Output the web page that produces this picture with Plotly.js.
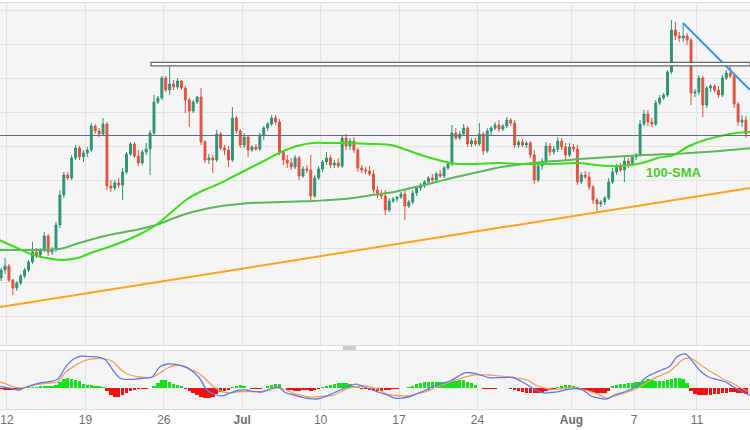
<!DOCTYPE html>
<html>
<head>
<meta charset="utf-8">
<script src="https://cdn.plot.ly/plotly-3.0.1.min.js"></script>
<style>html,body{margin:0;padding:0;background:#fff;}#chart{width:750px;height:430px;}</style>
</head>
<body>
<div id="chart"></div>
<script>
// ---- Price candles (4 per trading day, arbitrary price units) ----
const candleStart = -0.375;   // trading-day index of first candle
const candleStep = 0.25;      // 6-hour candles
const candleOpen = [122,130,134,120,112,117,124,130,138,148,145,150,164,148,151,175,205,225,222,242,252,243,247,250,274,269,266,276,214,212,217,215,228,246,256,244,237,248,251,267,298,302,322,310,316,313,319,312,300,289,298,303,258,240,242,240,266,252,250,240,282,269,255,263,250,253,251,265,272,276,282,278,248,240,237,233,242,224,231,230,204,222,231,238,242,235,237,234,262,254,259,250,232,230,229,226,210,205,204,190,199,201,203,206,194,198,207,212,215,218,222,220,226,224,232,236,267,262,266,272,256,259,256,266,249,269,272,275,271,274,280,277,255,258,255,257,245,220,234,239,254,248,251,259,253,245,253,251,218,225,223,213,200,196,198,202,218,228,233,230,239,236,243,245,276,286,278,276,297,302,305,328,370,364,362,364,360,307,308,322,295,312,314,310,305,322,327,324,296,278,280];
const candleHigh = [132,142,136,121,119,126,132,140,158,152,152,168,166,153,178,210,228,228,245,255,254,250,253,277,276,272,282,278,220,220,222,232,248,258,258,250,250,257,270,305,304,324,324,334,320,322,320,314,302,300,304,312,260,246,245,270,268,255,254,293,284,271,267,265,255,256,267,274,278,285,285,281,250,245,242,245,244,234,235,245,225,234,240,248,245,240,242,265,266,262,263,252,235,233,234,230,214,210,210,202,203,204,208,211,200,210,214,217,220,224,226,228,230,234,238,275,272,269,276,274,262,262,277,268,272,274,278,280,276,283,282,280,260,261,259,259,250,237,242,258,257,254,263,262,257,257,256,255,228,229,228,215,202,200,204,222,232,236,237,243,242,245,247,280,290,290,282,300,305,307,330,380,378,368,377,367,362,311,325,324,314,316,316,314,325,330,336,326,298,285,284];
const candleLow = [119,126,118,105,109,115,122,128,136,142,142,148,144,145,148,172,202,220,220,240,240,238,243,248,266,263,264,210,208,210,212,200,226,244,242,234,235,245,225,265,296,300,308,305,310,311,310,287,273,287,296,255,237,236,227,238,250,245,233,238,266,252,252,243,248,249,249,260,269,274,275,245,235,232,230,231,220,222,227,200,202,220,228,235,232,232,232,232,250,250,247,228,227,226,224,207,202,201,185,188,197,198,201,180,192,196,204,209,212,215,218,218,222,222,230,234,260,260,264,253,253,254,254,245,247,265,270,268,269,272,274,252,252,253,252,242,216,218,230,236,244,245,248,250,240,243,248,215,216,221,210,196,188,193,195,200,216,225,228,218,232,234,240,243,274,274,273,274,295,300,303,326,360,358,358,355,295,303,305,283,292,308,308,302,303,320,322,292,274,273,262];
const candleClose = [130,134,120,112,117,124,130,138,148,145,150,164,148,151,175,205,225,222,242,252,243,247,250,274,269,266,276,214,212,217,215,228,246,256,244,237,248,251,267,298,302,322,310,316,313,319,312,300,289,298,303,258,240,242,240,266,252,250,240,282,269,255,263,250,253,251,265,272,276,282,278,248,240,237,233,242,224,231,230,204,222,231,238,242,235,237,234,262,254,259,250,232,230,229,226,210,205,204,190,199,201,203,206,194,198,207,212,215,218,222,220,226,224,232,236,267,262,266,272,256,259,256,266,249,269,272,275,271,274,280,277,255,258,255,257,245,220,234,239,254,248,251,259,253,245,253,251,218,225,223,213,200,196,198,202,218,228,233,230,239,236,243,245,276,286,278,276,297,302,305,328,370,364,362,364,360,307,308,322,295,312,314,310,305,322,327,324,296,278,280,266];

// ---- Moving averages (one value per trading day, mid-day) ----
const smaStart = -0.5;
const smaStep = 1;
const sma100 = [160,153,146,142,140,142,148,153,159,166,175,188,201,209.5,216,224,232,240,248,254,257,257,257,256.5,256,255,250,244.5,240,236.5,236,236.5,237,236,236,236,236.5,237,235,234,234.5,237,242,245,254,260,264,267,268];
const sma200 = [150,150,150,150,151.5,156.5,161,165,168,171,175,181,186.5,190.5,193.5,195.5,197,197.5,198,198.5,199,200,201,203,205.5,207.5,211,214.5,218.5,222.5,226,229.5,233,235,237,238.5,239.5,241,242,243,244,245,245.5,246,247,248,249,250.5,252];

// ---- Trend lines and levels ----
const supportX = [-0.446, 47.385];
const supportY = [93, 212];
const resistX = [43.11, 47.385];
const resistY = [377, 310];
const zoneLow = 334.2, zoneHigh = 337.6, zoneStart = 9.18;
const midLevel = 264.5;

// ---- MACD (two values per trading day) ----
const macdStart = -0.75;
const macdStep = 0.5;
const macdLine = [2,1,-0.3,-2,1,3.5,5.5,6.5,9,21.3,29,31.8,31.3,31,28.5,18,9.5,8.7,9,9.8,11,21.3,24,23.5,21.5,17.5,10.5,-2,-6.5,-7.8,-5,-2.5,-2,-3.5,-4,-1.5,1.2,-4.5,-7,-9,-10.5,-11,-9,-5.5,-2,1.5,3.8,1.2,-1.5,-4.5,-7,-10.2,-10,-8.5,-5,-2,2,4.5,7,11.3,15.3,14.8,12.8,10.3,10.3,10.4,10.5,7,2.5,-2.2,-5,-4.5,-3.3,-1.5,-0.5,-2.3,-8,-10.2,-11,-7,-4.5,-1.7,3,10.5,14.5,18,21.5,31.5,34,26,16.5,11,8.5,6.5,2,-2.5,-6.5,-9];
const signalLine = [7,5,2,0.2,1,3,4.2,5,6.5,16,21.5,26,28.5,29.5,29.2,26.5,18.5,13.5,11.5,10.7,10.7,15,20,22.5,22,18.5,14.5,7.5,0.5,-4,-4.8,-3.8,-3.7,-3.7,-3.4,-1.5,0,-1.5,-5.3,-7.2,-9,-9,-8,-7.3,-4,-0.3,1,2.2,0.5,-2,-6.2,-7.5,-8,-7.5,-5.5,-3.5,-0.2,3,6,8.7,11,13,13,13,12.2,11.5,10.7,9.5,7.5,2.5,0,-1.3,-1,0,0,-1.8,-3.8,-6.8,-10,-8,-6,-3,0,5,9.5,13,16.5,23.5,29.7,28.5,23,17.5,13,8.5,5,0.5,-3.5,-6];
// histogram, one bar per candle
const macdHist = [-1.5,-2,-2.2,-2,-1.5,-0.8,-0.3,0.5,1,1.3,1.5,1.7,1.5,1.7,2.5,6,9,9.5,8.5,7.5,6.5,4,3,2.5,2,1.5,0.8,-3,-7,-9,-9,-7.5,-5,-3.5,-2.5,-1.5,-1,-0.8,0.3,2,5,7.5,7.5,6,4,3,1.5,-1,-3,-5,-7.5,-9.5,-10.5,-10.5,-9,-6.5,-4,-3,-2,0.5,2,2.5,2,-0.5,-1,-1,-0.8,0.3,1.5,2.5,3.5,3.5,-0.5,-2,-2.5,-3,-3,-2.5,-2.5,-3,-2,-1,0.5,1.5,2.5,3.5,4.5,5,4.5,3.5,2,0.5,-1,-1.5,-2.5,-3,-3,-3,-2.5,-2,-1.5,-1,-0.5,-0.2,1,2,3.5,4.5,5.5,6,6,5.5,6,6,6,6.5,7,7.5,7.5,6,4.5,2.5,-0.5,-1,-1.5,-1.5,-1,-0.5,-0.5,-0.5,-1,-2,-3,-4,-5,-5.5,-5.5,-5.5,-5,-3.5,-2,-1,1,2,2.5,2.5,2,1,-1,-2.5,-3.5,-4.5,-5,-5.5,-5.5,-3,2,3,3.5,4,4.5,5,5.5,6,7,8.5,7.5,6.5,6.5,7,7.5,8.5,9.5,9.5,8.5,5,-3,-6,-7,-7.5,-7.5,-7,-6.5,-6,-5.5,-5,-4.5,-4.5,-5,-5.5,-6.5];

// ---- Axis ticks (trading-day index) ----
const tickDays = [0,5,10,15,20,25,30,36,40,44];
const tickLabels = ['12','19','26','<b>Jul</b>','10','17','24','<b>Aug</b>','7','11'];

// time positions
const candleX = candleClose.map((_, i) => candleStart + i * candleStep);
const smaX = sma100.map((_, i) => smaStart + i * smaStep);
const macdX = macdLine.map((_, i) => macdStart + i * macdStep);

const xRange = [-0.446, 47.385];
const UP = '#2f9477', DOWN = '#e2543f';

const traces = [
  {type:'scatter', mode:'lines', x:smaX, y:sma200, line:{color:'#5cb85c', width:2, shape:'spline'}, hoverinfo:'skip', xaxis:'x', yaxis:'y'},
  {type:'scatter', mode:'lines', x:smaX, y:sma100, line:{color:'#3ddc1e', width:2, shape:'spline'}, hoverinfo:'skip', xaxis:'x', yaxis:'y'},
  {type:'candlestick', x:candleX, open:candleOpen, high:candleHigh, low:candleLow, close:candleClose,
   increasing:{line:{color:UP, width:1}, fillcolor:UP},
   decreasing:{line:{color:DOWN, width:1}, fillcolor:DOWN},
   whiskerwidth:0, hoverinfo:'skip', xaxis:'x', yaxis:'y'},
  {type:'scatter', mode:'lines', x:supportX, y:supportY, line:{color:'#ffa220', width:2}, hoverinfo:'skip', xaxis:'x', yaxis:'y'},
  {type:'scatter', mode:'lines', x:resistX, y:resistY, line:{color:'#3a98e8', width:2}, hoverinfo:'skip', xaxis:'x', yaxis:'y'},
  {type:'bar', x:candleX, y:macdHist, width:0.22,
   marker:{color:macdHist.map(v => v >= 0 ? '#18e018' : '#f51010'), line:{width:0}},
   hoverinfo:'skip', xaxis:'x2', yaxis:'y2'},
  {type:'scatter', mode:'lines', x:macdX, y:signalLine, line:{color:'#f5a060', width:1.3, shape:'spline'}, hoverinfo:'skip', xaxis:'x2', yaxis:'y2'},
  {type:'scatter', mode:'lines', x:macdX, y:macdLine, line:{color:'#5b7cf4', width:1.3, shape:'spline'}, hoverinfo:'skip', xaxis:'x2', yaxis:'y2'}
];

const gridC = '#e3e3e3', borderC = '#d4dce6';
const layout = {
  width:750, height:430,
  margin:{l:0, r:0, t:3, b:21, pad:0},
  paper_bgcolor:'#ffffff', plot_bgcolor:'#f5f5f5',
  showlegend:false, bargap:0,
  xaxis:{range:xRange, tickmode:'array', tickvals:tickDays, showticklabels:false, showgrid:true, gridcolor:gridC,
         zeroline:false, showline:true, mirror:true, linecolor:borderC, linewidth:1, rangeslider:{visible:false}, anchor:'y', fixedrange:true},
  yaxis:{domain:[0.1576, 1], range:[55, 397], tick0:84, dtick:34, showticklabels:false, showgrid:true, gridcolor:gridC,
         zeroline:false, fixedrange:true},
  xaxis2:{range:xRange, tickmode:'array', tickvals:tickDays, ticktext:tickLabels, showgrid:true, gridcolor:gridC, zeroline:false,
          showline:true, mirror:true, linecolor:borderC, linewidth:1, ticks:'', rangeslider:{visible:false}, anchor:'y2',
          tickfont:{family:'"Liberation Sans", Arial, sans-serif', size:12, color:'#707070'}, fixedrange:true},
  yaxis2:{domain:[0, 0.1429], range:[-21, 37], showticklabels:false, showgrid:false, zeroline:false, fixedrange:true},
  shapes:[
    {type:'line', xref:'x', yref:'y', x0:xRange[0], x1:xRange[1], y0:midLevel, y1:midLevel, line:{color:'#5e6c86', width:1}},
    {type:'rect', xref:'x', yref:'y', x0:zoneStart, x1:xRange[1], y0:zoneLow, y1:zoneHigh, fillcolor:'#ffffff', line:{color:'#6a6a6a', width:1.3}},
    {type:'line', xref:'paper', yref:'paper', x0:0.4573, x1:0.4747, y0:0.1527, y1:0.1527, line:{color:'#999999', width:1}},
    {type:'line', xref:'paper', yref:'paper', x0:0.4573, x1:0.4747, y0:0.1478, y1:0.1478, line:{color:'#999999', width:1}}
  ],
  annotations:[
    {xref:'x', yref:'y', x:42.54, y:228, text:'<b>100-SMA</b>', showarrow:false,
     font:{family:'"Liberation Sans", Arial, sans-serif', size:13, color:'#4ccb2e'}}
  ]
};

Plotly.newPlot('chart', traces, layout, {displayModeBar:false, staticPlot:true});
</script>
</body>
</html>
